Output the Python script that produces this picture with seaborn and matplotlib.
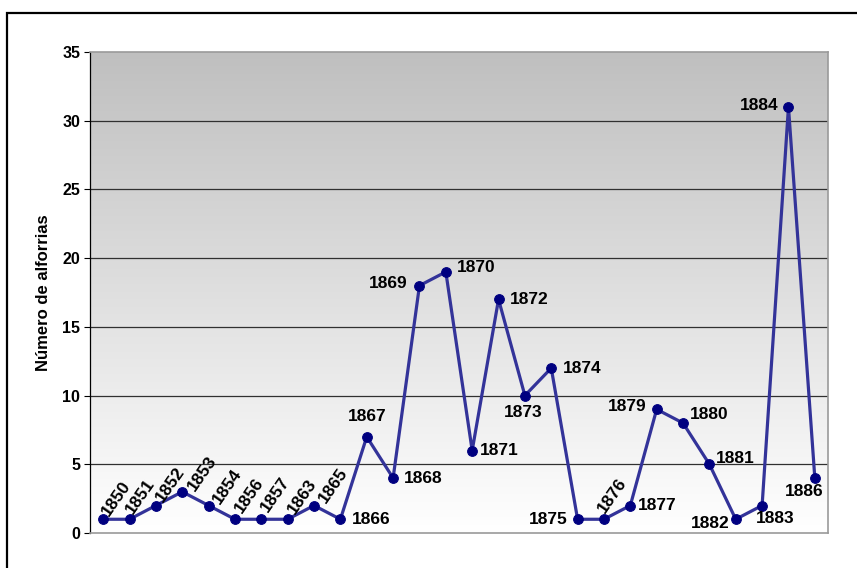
import numpy as np
import pandas as pd
import matplotlib
matplotlib.use("Agg")
import matplotlib.pyplot as plt
from matplotlib.patches import Rectangle
import seaborn as sns

# Manumissions recorded per year
years = ["1850", "1851", "1852", "1853", "1854", "1856", "1857", "1863", "1865",
         "1866", "1867", "1868", "1869", "1870", "1871", "1872", "1873", "1874",
         "1875", "1876", "1877", "1879", "1880", "1881", "1882", "1883", "1884",
         "1886"]
alforrias = [1, 1, 2, 3, 2, 1, 1, 1, 2, 1, 7, 4, 18, 19, 6, 17, 10, 12,
             1, 1, 2, 9, 8, 5, 1, 2, 31, 4]
y_ticks = [0, 5, 10, 15, 20, 25, 30, 35]
y_label = "Número de alforrias"

df = pd.DataFrame({"ano": years, "alforrias": alforrias})

# Label placement: (dx, dy) of the label centre in pixels from the point,
# and a rotation for the crowded early years.
label_pos = {
    "1850": (13, -21, 55), "1851": (11, -23, 55), "1852": (14, -21, 55),
    "1853": (20, -18, 55), "1854": (19, -19, 55), "1856": (14, -24, 55),
    "1857": (14, -25, 55), "1863": (15, -23, 55), "1865": (19, -20, 55),
    "1866": (31, 0, 0), "1867": (0, -20, 0), "1868": (30, 0, 0),
    "1869": (-31, -2, 0), "1870": (30, -4, 0), "1871": (27, 0, 0),
    "1872": (31, 0, 0), "1873": (-2, 17, 0), "1874": (31, 0, 0),
    "1875": (-29, 0, 0), "1876": (8, -24, 55), "1877": (27, 0, 0),
    "1879": (-29, -3, 0), "1880": (26, -9, 0), "1881": (26, -6, 0),
    "1882": (-25, 4, 0), "1883": (13, 13, 0), "1884": (-29, -1, 0),
    "1886": (-11, 13, 0),
}

sns.set_theme(style="white")
plt.rcParams["font.family"] = ["Liberation Sans", "DejaVu Sans"]

W, H, DPI = 857, 568, 100
fig = plt.figure(figsize=(W / DPI, H / DPI), dpi=DPI)
fig.patch.set_facecolor("white")

left, right, top, bottom = 90, 828, 52, 533
ax = fig.add_axes([left / W, 1 - bottom / H, (right - left) / W, (bottom - top) / H])

# vertical grey-to-white gradient behind the plot
grad = np.linspace(0.75, 1.0, 256).reshape(-1, 1)
grad_rgb = np.dstack([grad, grad, grad])
ax.imshow(grad_rgb, extent=[0, 1, 0, 1], transform=ax.transAxes,
          aspect="auto", zorder=0, interpolation="bicubic")

sns.lineplot(data=df, x="ano", y="alforrias", sort=False, ax=ax,
             color="#333399", linewidth=2.3, marker="o", markersize=7,
             markerfacecolor="#000080", markeredgecolor="#000080", zorder=3)

ax.set_xlim(-0.5, len(years) - 0.5)
ax.set_ylim(0, 35)
ax.set_yticks(y_ticks)
ax.set_yticklabels([str(t) for t in y_ticks], fontsize=11.5, fontweight="bold",
                   color="black")
ax.set_xticks([])
ax.set_xlabel("")
ax.set_ylabel(y_label, fontsize=12, fontweight="bold", color="black", labelpad=8)

for t in y_ticks[1:-1]:
    ax.axhline(t, color="#303030", linewidth=0.9, zorder=1)

ax.tick_params(axis="y", direction="out", length=4, width=0.8, color="black",
               left=True, pad=3)
ax.spines["left"].set_color("black")
ax.spines["left"].set_linewidth(0.9)
for s in ("top", "right", "bottom"):
    ax.spines[s].set_color("#9a9a9a")
    ax.spines[s].set_linewidth(1.2)

px2pt = 72 / DPI
for i, (yr, v) in enumerate(zip(years, alforrias)):
    dx, dy, rot = label_pos[yr]
    ax.annotate(yr, (i, v), xytext=(dx * px2pt, -dy * px2pt),
                textcoords="offset points", ha="center", va="center",
                rotation=rot, rotation_mode="anchor", fontsize=12.5,
                fontweight="bold", color="black", zorder=4)

# outer chart frame
fig.patches.append(Rectangle((7 / W, -0.1), 1.2, 1 - 13 / H + 0.1,
                             transform=fig.transFigure, fill=False,
                             edgecolor="black", linewidth=1.6))

fig.savefig("out.png", dpi=DPI)
